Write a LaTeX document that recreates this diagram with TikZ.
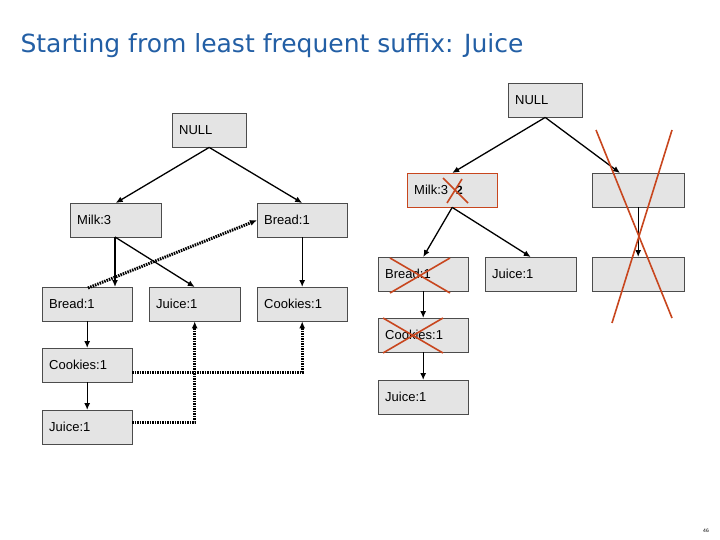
\documentclass[tikz,border=0pt]{standalone}
\usepackage{fontspec}
\setmainfont{Liberation Sans}
\newfontfamily\titlefont{DejaVu Sans}
\usetikzlibrary{arrows.meta}
\definecolor{titleblue}{RGB}{35,95,165}
\definecolor{crossred}{RGB}{200,70,30}
\definecolor{boxgray}{RGB}{228,228,228}
\begin{document}
\begin{tikzpicture}[x=1pt,y=-1pt,
  item/.style={draw=black!70,fill=boxgray,minimum height=34pt,anchor=north west,
    inner ysep=0pt,inner xsep=7pt,text width=#1-14pt,align=left,
    font=\fontsize{13pt}{15pt}\selectfont},
  link/.style={-{Latex[length=7pt,width=6pt]},line width=1.3pt},
  nodelink/.style={-{Latex[length=7pt,width=6pt]},line width=3pt,dash pattern=on 1.5pt off 1pt},
  cross/.style={crossred,line width=1.6pt}]
\useasboundingbox[fill=white] (0,0) rectangle (720,540);
\node[anchor=west,text=titleblue,font=\titlefont\fontsize{25pt}{30pt}\selectfont] (title) at (17,46) {Starting from least frequent suffix: Juice};

% left tree
\node[item=74pt] (nullA) at (172,113) {NULL};
\node[item=91pt] (milkA) at (70,203) {Milk:3};
\node[item=90pt] (breadA) at (257,203) {Bread:1};
\node[item=90pt] (breadB) at (42,287) {Bread:1};
\node[item=91pt] (juiceA) at (149,287) {Juice:1};
\node[item=90pt] (cookA) at (257,287) {Cookies:1};
\node[item=90pt] (cookB) at (42,348) {Cookies:1};
\node[item=90pt] (juiceB) at (42,410) {Juice:1};

% right tree
\node[item=74pt] (nullB) at (508,83) {NULL};
\node[item=90pt,draw=crossred] (milkB) at (407,173) {Milk:3\hspace{8pt}\textbf{\large 2}};
\node[item=92pt] (emptyA) at (592,173) {};
\node[item=90pt] (breadC) at (378,257) {Bread:1};
\node[item=91pt] (juiceC) at (485,257) {Juice:1};
\node[item=92pt] (emptyB) at (592,257) {};
\node[item=90pt] (cookC) at (378,318) {Cookies:1};
\node[item=90pt] (juiceD) at (378,380) {Juice:1};

\coordinate (cA) at (132,372);
\coordinate (cB) at (132,422);
\coordinate (mA) at (115,237);
\coordinate (eA) at (620,173);

\draw[link] (nullA.south) -- (milkA.north);
\draw[link] (nullA.south) -- (breadA.north);
\draw[link] (mA) -- (mA |- breadB.north);
\draw[link] (mA) -- (juiceA.north);
\draw[link] (breadA.south) -- (cookA.north);
\draw[link] (breadB.south) -- (cookB.north);
\draw[link] (cookB.south) -- (juiceB.north);

\draw[link] (nullB.south) -- (milkB.north);
\draw[link] (nullB.south) -- (eA);
\draw[link] (milkB.south) -- (breadC.north);
\draw[link] (milkB.south) -- (juiceC.north);
\draw[link] (emptyA.south) -- (emptyB.north);
\draw[link] (breadC.south) -- (cookC.north);
\draw[link] (cookC.south) -- (juiceD.north);

% node links
\draw[nodelink] (88,288) -- (breadA.west);
\draw[nodelink] (cA) -| (cookA.south);
\draw[nodelink] (cB) -| (juiceA.south);

% crosses
\draw[cross] (443,178) -- (468,203) (447,203) -- (462,179);
\draw[cross] (390,258) -- (450,293) (390,293) -- (450,258);
\draw[cross] (383,318) -- (443,353) (383,353) -- (443,318);
\draw[cross] (596,130) -- (672,318) (672,130) -- (612,323);

\node[font=\tiny] (page) at (706,531) {46};
\end{tikzpicture}
\end{document}
